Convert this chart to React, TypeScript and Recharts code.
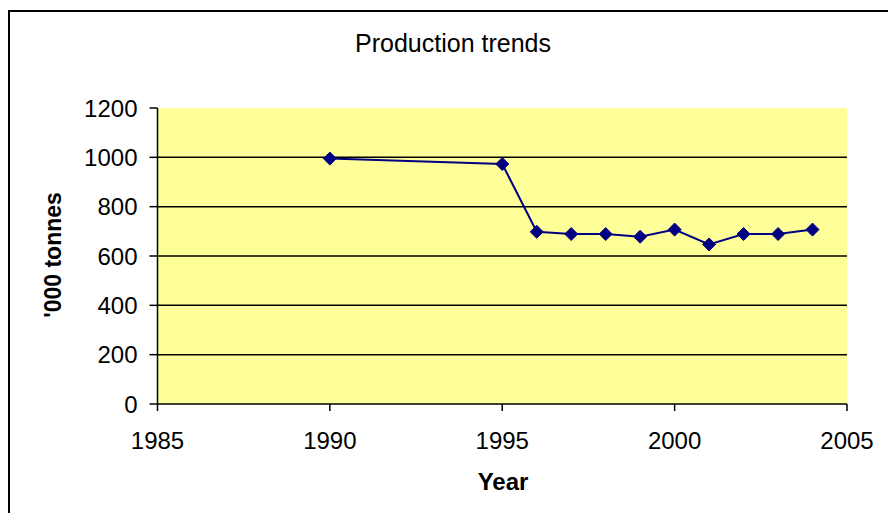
import React from "react";
import { LineChart, Line, XAxis, YAxis, CartesianGrid } from "recharts";

const years = [1990, 1995, 1996, 1997, 1998, 1999, 2000, 2001, 2002, 2003, 2004];
const production = [995, 973, 698, 689, 689, 678, 707, 647, 689, 689, 707];
const xTicks = [1985, 1990, 1995, 2000, 2005];
const yTicks = [0, 200, 400, 600, 800, 1000, 1200];
const gridValues = [200, 400, 600, 800, 1000];

const data = years.map((year, i) => ({ year, value: production[i] }));

const FONT = '"Liberation Sans", Arial, sans-serif';

function Diamond(props: any) {
  const { cx, cy } = props;
  if (cx == null || cy == null) return null;
  const r = 6.5;
  return (
    <polygon
      points={`${cx},${cy - r} ${cx + r},${cy} ${cx},${cy + r} ${cx - r},${cy}`}
      fill="#000080"
      stroke="#000080"
    />
  );
}

export default function App() {
  return (
    <div style={{ position: "absolute", left: 0, top: 0, width: 888, height: 513, overflow: "hidden", background: "#fff", fontFamily: FONT }}>
      <div style={{ position: "absolute", left: 8, top: 10, width: 900, height: 520, borderLeft: "2px solid #000", borderTop: "2px solid #000" }} />
      <LineChart width={888} height={513} data={data} margin={{ top: 108, right: 41, bottom: 0, left: 0 }}>
        <CartesianGrid fill="#FFFF99" vertical={false} stroke="#000" strokeWidth={1.5} horizontalValues={gridValues} />
        <XAxis
          dataKey="year"
          type="number"
          domain={[1985, 2005]}
          ticks={xTicks}
          height={109}
          tickSize={7}
          tickMargin={21}
          stroke="#000"
          strokeWidth={1.5}
          tick={{ fill: "#000", fontSize: 24, fontFamily: FONT }}
          interval={0}
        />
        <YAxis
          type="number"
          domain={[0, 1200]}
          ticks={yTicks}
          width={157.5}
          tickSize={8}
          tickMargin={12}
          stroke="#000"
          strokeWidth={1.5}
          tick={{ fill: "#000", fontSize: 24, fontFamily: FONT }}
          interval={0}
        />
        <Line
          dataKey="value"
          stroke="#000080"
          strokeWidth={2}
          type="linear"
          dot={<Diamond />}
          activeDot={false}
          isAnimationActive={false}
        />
      </LineChart>
      <div style={{ position: "absolute", left: 453, top: 43, transform: "translate(-50%, -50%)", fontSize: 25, whiteSpace: "nowrap", color: "#000" }}>
        Production trends
      </div>
      <div style={{ position: "absolute", left: 53, top: 255, transform: "translate(-50%, -50%) rotate(-90deg)", fontSize: 23, fontWeight: "bold", whiteSpace: "nowrap", color: "#000" }}>
        '000 tonnes
      </div>
      <div style={{ position: "absolute", left: 503, top: 482, transform: "translate(-50%, -50%)", fontSize: 24, fontWeight: "bold", whiteSpace: "nowrap", color: "#000" }}>
        Year
      </div>
    </div>
  );
}
